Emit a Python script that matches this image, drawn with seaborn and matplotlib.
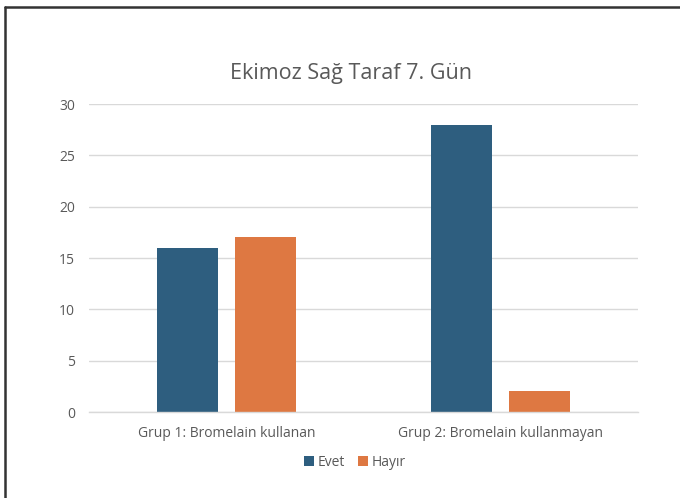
import numpy as np
import pandas as pd
import matplotlib.pyplot as plt
import matplotlib.lines as mlines
import seaborn as sns

groups = ["Grup 1: Bromelain kullanan", "Grup 2: Bromelain kullanmayan"]
evet = [16, 28]
hayir = [17, 2]
series = ["Evet", "Hayır"]
colors = ["#2E5E7F", "#DE7842"]

df = pd.DataFrame({
    "grup": groups * 2,
    "deger": evet + hayir,
    "seri": [series[0]] * len(groups) + [series[1]] * len(groups),
})

sns.set_style("white")
plt.rcParams["font.family"] = ["Open Sans", "DejaVu Sans"]
txt = "#595959"

fig = plt.figure(figsize=(6.8, 4.98), dpi=100)
fig.patch.set_facecolor("white")
ax = fig.add_axes([89 / 680, 86 / 498, 549 / 680, 308 / 498])

sns.barplot(data=df, x="grup", y="deger", hue="seri", palette=colors,
            width=0.567, gap=0.22, ax=ax, legend=True, saturation=1,
            edgecolor="none")

ax.set_xlim(-0.5, 1.5)
ax.set_ylim(0, 30)
ax.set_yticks(range(0, 31, 5))
ax.yaxis.grid(True, color="#D9D9D9", linewidth=1)
ax.set_axisbelow(True)
for s in ["top", "right", "left"]:
    ax.spines[s].set_visible(False)
ax.spines["bottom"].set_color("#D9D9D9")
ax.spines["bottom"].set_linewidth(1)
ax.tick_params(axis="both", length=0, colors=txt, labelsize=10)
ax.tick_params(axis="y", pad=10)
ax.tick_params(axis="x", pad=10)
ax.set_xlabel("")
ax.set_ylabel("")

# title sits slightly left of the plot-area centre, like the original
fig.text(351 / 680, 1 - 73 / 498, "Ekimoz Sağ Taraf 7. Gün", color=txt,
         fontsize=15.5, ha="center", va="center")

handles, labels = ax.get_legend_handles_labels()
ax.legend(handles, labels, loc="center", bbox_to_anchor=(355 / 680, 36 / 498),
          bbox_transform=fig.transFigure, ncol=2, frameon=False,
          fontsize=10, labelcolor=txt, handlelength=0.7, handleheight=0.7,
          handletextpad=0.3, columnspacing=0.9)

# dark frame on top and left edge
fig.add_artist(mlines.Line2D([5 / 680, 1], [1 - 7 / 498, 1 - 7 / 498],
                             transform=fig.transFigure, color="#333333", linewidth=1.8))
fig.add_artist(mlines.Line2D([5 / 680, 5 / 680], [0, 1 - 7 / 498],
                             transform=fig.transFigure, color="#333333", linewidth=1.8))

fig.savefig("out.png", dpi=100)
